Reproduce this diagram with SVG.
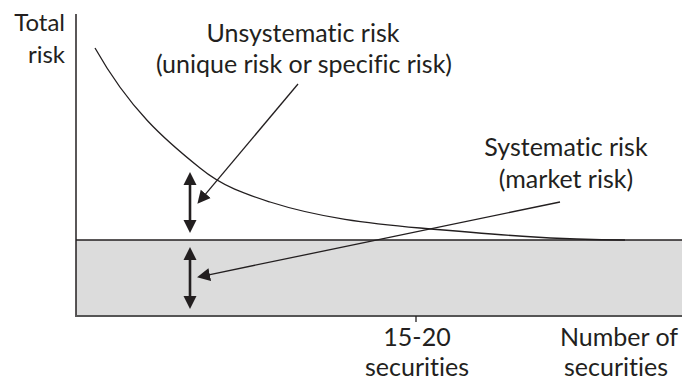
<svg xmlns="http://www.w3.org/2000/svg" width="682" height="381" viewBox="0 0 682 381">
<style>
text{font-family:Lato,"Open Sans","Liberation Sans",sans-serif;font-size:25px;fill:#231f20;font-variant-ligatures:none;font-feature-settings:"liga" 0,"dlig" 0}
.ln{stroke:#231f20;fill:none}
.thin{stroke-width:1.3}
.thick{stroke-width:2.6}
</style>
<defs>
<marker id="ah" markerUnits="userSpaceOnUse" markerWidth="14" markerHeight="14" refX="1" refY="6.5" orient="auto-start-reverse" viewBox="0 0 14 13">
<path d="M0,0 L13,6.5 L0,13 z" fill="#231f20"/>
</marker>
</defs>
<g id="band">
<rect x="76" y="240" width="606" height="76" fill="#dcdcdc"/>
<line class="ln thin" x1="76" y1="240" x2="682" y2="240"/>
</g>
<g id="axes">
<line class="ln" stroke-width="1.5" x1="76" y1="14" x2="76" y2="317"/>
<line x1="76" y1="316" x2="682" y2="316" stroke="#555" stroke-width="2"/>
<line class="ln" stroke-width="1.3" x1="416" y1="316" x2="416" y2="322"/>
</g>
<g id="curve">
<path class="ln thin" d="M95,48 C130,110 165,140 200,168 C223,187 247,194.6 270,202 C320,218 370,223.5 420,228 C488,234 557,240 625,240"/>
</g>
<g id="labels">
<text x="65" y="31" text-anchor="end" style="font-size:24px">Total</text>
<text x="65" y="63" text-anchor="end" style="font-size:24px">risk</text>
<text x="303" y="42" text-anchor="middle">Unsystematic risk</text>
<text x="304" y="73" text-anchor="middle">(unique risk or specific risk)</text>
<text x="566" y="156" text-anchor="middle">Systematic risk</text>
<text x="566" y="188" text-anchor="middle">(market risk)</text>
<text x="417" y="346" text-anchor="middle">15-20</text>
<text x="417" y="376" text-anchor="middle">securities</text>
<text x="619" y="346" text-anchor="middle">Number of</text>
<text x="616" y="376" text-anchor="middle">securities</text>
</g>
<g id="connectors">
<line class="ln thick" x1="190" y1="184" x2="190" y2="221" marker-start="url(#ah)" marker-end="url(#ah)"/>
<line class="ln thick" x1="190" y1="259" x2="190" y2="297" marker-start="url(#ah)" marker-end="url(#ah)"/>
<line class="ln thin" x1="298" y1="84" x2="205.1" y2="194.6" marker-end="url(#ah)"/>
<line class="ln thin" x1="560" y1="202" x2="208.8" y2="274.8" marker-end="url(#ah)"/>
</g>
</svg>
